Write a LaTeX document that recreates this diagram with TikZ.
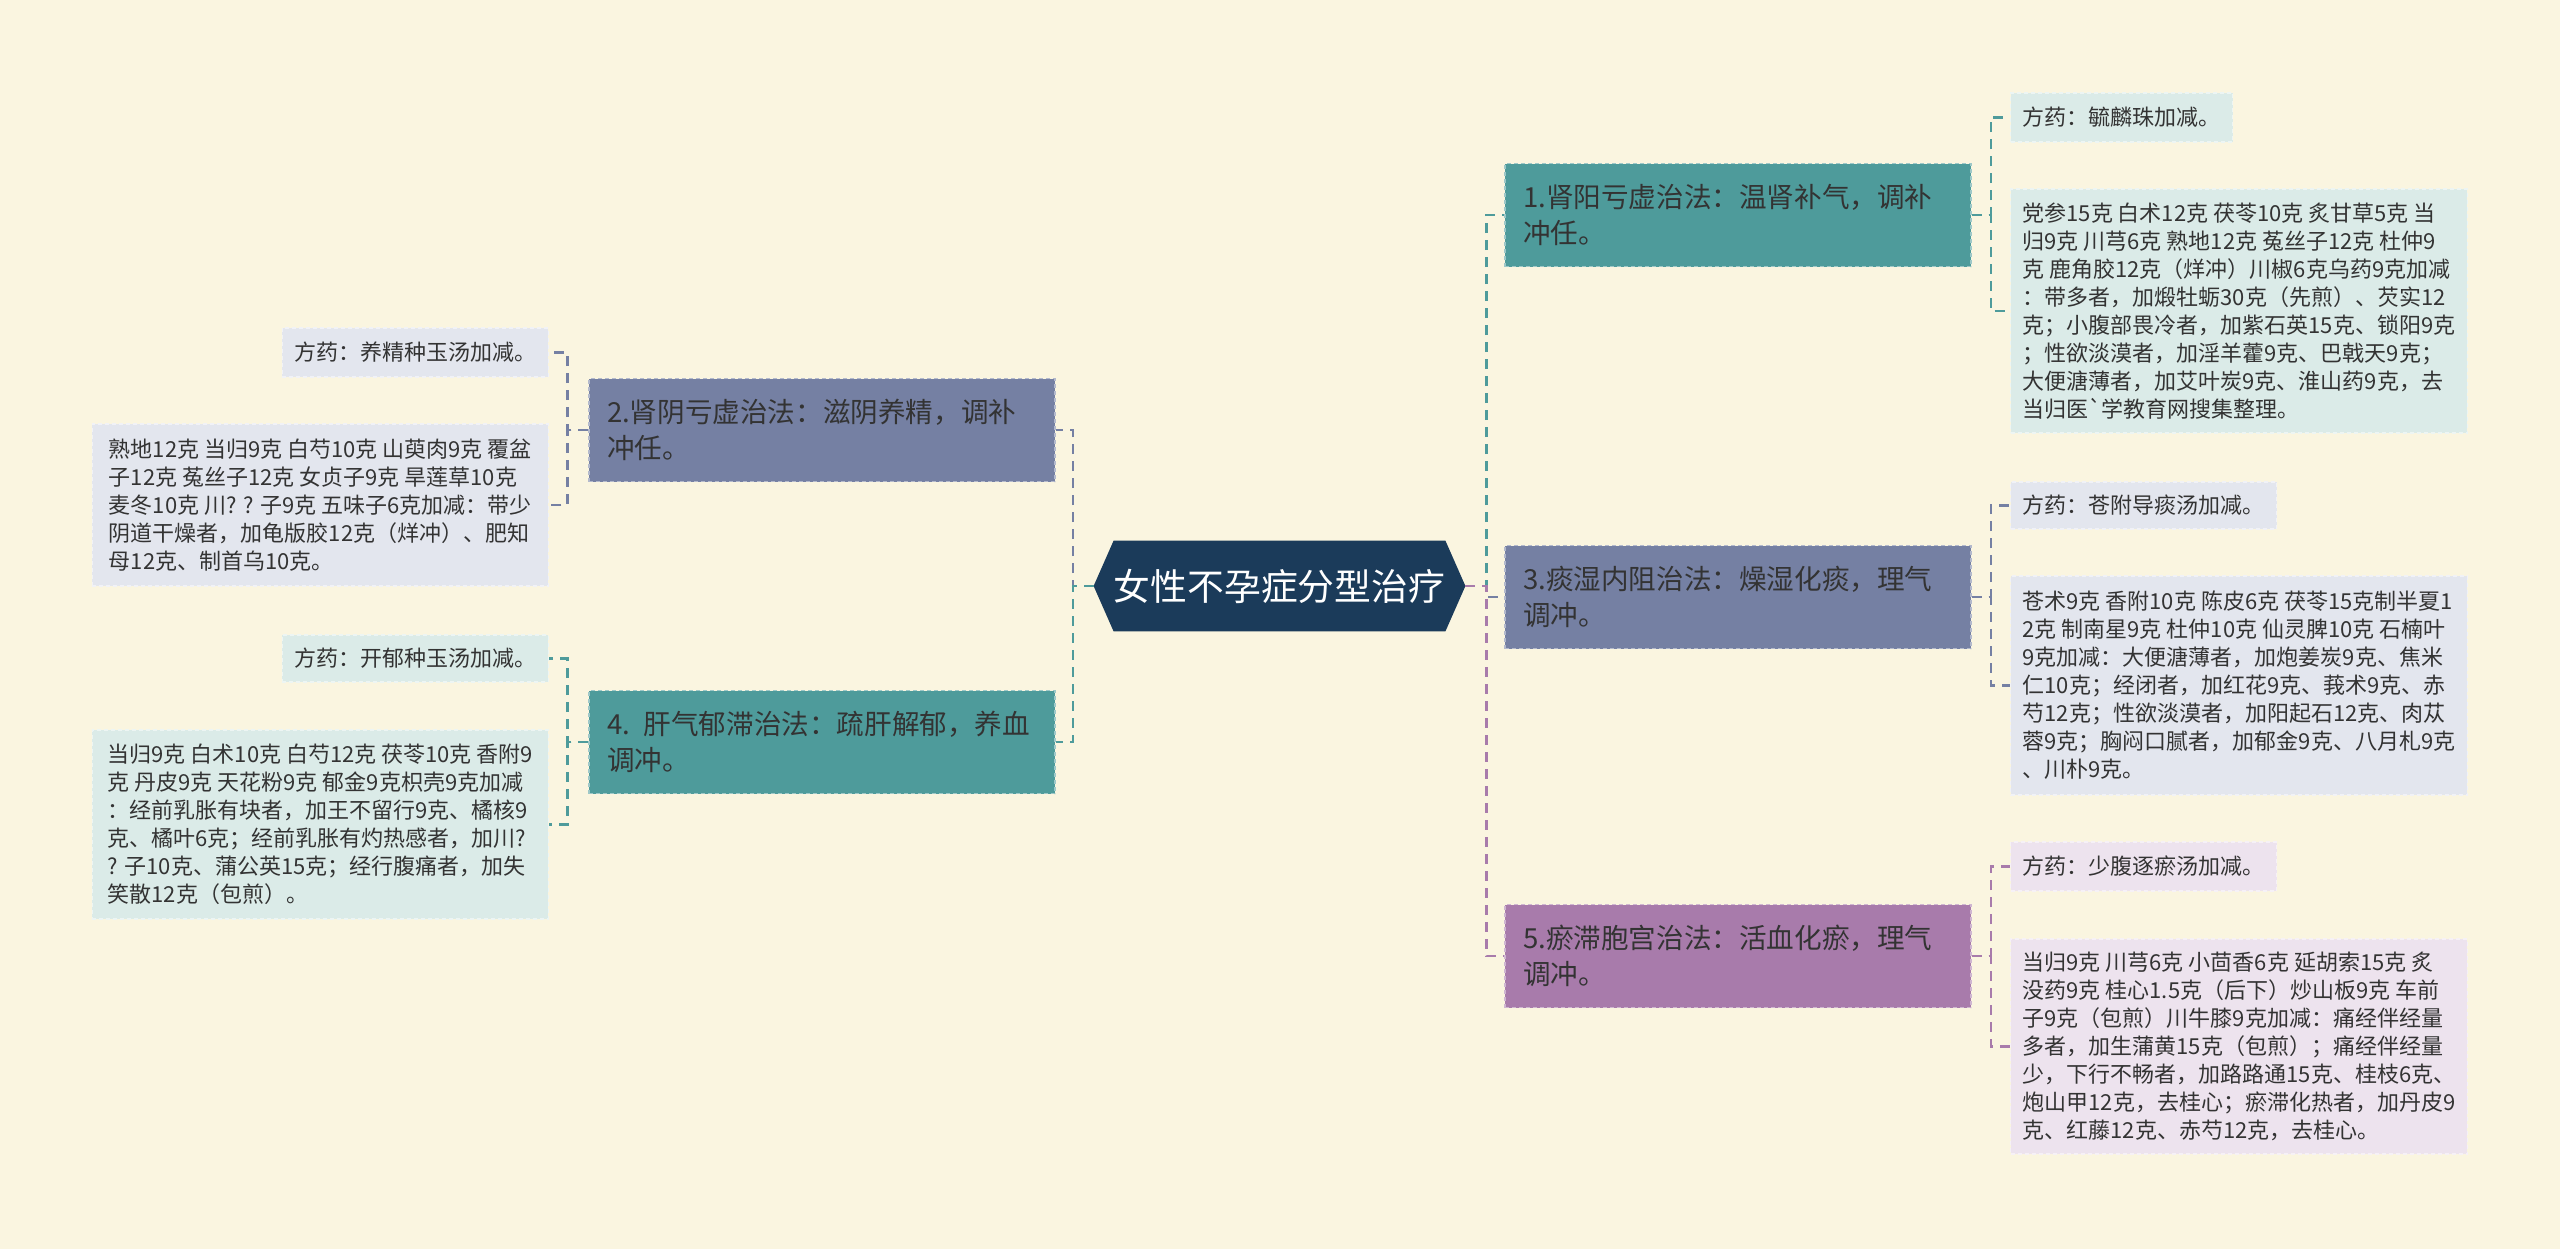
\documentclass[tikz,border=0pt]{standalone}
\usepackage{fontspec}
\setmainfont{Noto Sans CJK SC}
\usetikzlibrary{backgrounds}
\definecolor{bgcream}{HTML}{FAF5E0}
\definecolor{rootblue}{HTML}{1B3B5A}
\definecolor{tealc}{HTML}{4E9B9B}
\definecolor{slatec}{HTML}{7580A3}
\definecolor{plumc}{HTML}{A87BAB}
\definecolor{tealleaf}{HTML}{DBEBE8}
\definecolor{slateleaf}{HTML}{E3E6EE}
\definecolor{plumleaf}{HTML}{EDE3EE}
\definecolor{inkc}{HTML}{333333}

\begin{document}
\begin{tikzpicture}[x=0.5pt,y=-0.5pt,
  link/.style={draw=#1,line width=1.1pt,dash pattern=on 5pt off 3.5pt},
  branch/.style={fill=#1,draw=white!45!#1,line width=0.6pt,dash pattern=on 2pt off 1.5pt,text=inkc,minimum height=51.5pt,inner xsep=9pt,text width=215pt,align=left,font=\fontsize{13.8}{18}\selectfont},
  leaf/.style={fill=#1,draw=white!50!#1,line width=0.6pt,dash pattern=on 2pt off 1.5pt,text=inkc,inner xsep=6pt,align=left,font=\fontsize{11}{14}\selectfont}]
\useasboundingbox (0,0) rectangle (2560,1249);
\node[text=white,minimum width=185.5pt,minimum height=45pt,inner sep=0pt,font=\fontsize{18.4}{22}\selectfont] (root) at (1279.5,586) {女性不孕症分型治疗};
\begin{scope}[on background layer]
\fill[bgcream] (0,0) rectangle (2560,1249);
\fill[rootblue] (root.west) -- ([xshift=10pt]root.north west) -- ([xshift=-10pt]root.north east) -- (root.east) -- ([xshift=-10pt]root.south east) -- ([xshift=10pt]root.south west) -- cycle;
\end{scope}
\node[branch=tealc] (yang) at (1738,215) {1.肾阳亏虚治法：温肾补气，调补\\冲任。};
\node[branch=slatec] (tan) at (1738,597) {3.痰湿内阻治法：燥湿化痰，理气\\调冲。};
\node[branch=plumc] (yu) at (1738,956) {5.瘀滞胞宫治法：活血化瘀，理气\\调冲。};
\node[branch=slatec] (yin) at (822,430) {2.肾阴亏虚治法：滋阴养精，调补\\冲任。};
\node[branch=tealc] (gan) at (822,742) {4. 肝气郁滞治法：疏肝解郁，养血\\调冲。};
\node[leaf=tealleaf,anchor=west,minimum width=108.5pt,minimum height=24.5pt] (yang-fang) at (2010,117.5) {方药：毓麟珠加减。};
\node[leaf=tealleaf,anchor=west,minimum width=227.5pt,minimum height=122pt] (yang-yao) at (2010,311) {党参15克 白术12克 茯苓10克 炙甘草5克 当\\归9克 川芎6克 熟地12克 菟丝子12克 杜仲9\\克 鹿角胶12克（烊冲）川椒6克乌药9克加减\\：带多者，加煅牡蛎30克（先煎）、芡实12\\克；小腹部畏冷者，加紫石英15克、锁阳9克\\；性欲淡漠者，加淫羊藿9克、巴戟天9克；\\大便溏薄者，加艾叶炭9克、淮山药9克，去\\当归医\textasciigrave 学教育网搜集整理。};
\node[leaf=slateleaf,anchor=west,minimum width=129.5pt,minimum height=23.5pt] (tan-fang) at (2010,505.5) {方药：苍附导痰汤加减。};
\node[leaf=slateleaf,anchor=west,minimum width=227.5pt,minimum height=109.5pt] (tan-yao) at (2010,685.5) {苍术9克 香附10克 陈皮6克 茯苓15克制半夏1\\2克 制南星9克 杜仲10克 仙灵脾10克 石楠叶\\9克加减：大便溏薄者，加炮姜炭9克、焦米\\仁10克；经闭者，加红花9克、莪术9克、赤\\芍12克；性欲淡漠者，加阳起石12克、肉苁\\蓉9克；胸闷口腻者，加郁金9克、八月札9克\\、川朴9克。};
\node[leaf=plumleaf,anchor=west,minimum width=129.5pt,minimum height=24.5pt] (yu-fang) at (2010,866.5) {方药：少腹逐瘀汤加减。};
\node[leaf=plumleaf,anchor=west,minimum width=227.5pt,minimum height=107.5pt] (yu-yao) at (2010,1046.5) {当归9克 川芎6克 小茴香6克 延胡索15克 炙\\没药9克 桂心1.5克（后下）炒山板9克 车前\\子9克（包煎）川牛膝9克加减：痛经伴经量\\多者，加生蒲黄15克（包煎）；痛经伴经量\\少，下行不畅者，加路路通15克、桂枝6克、\\炮山甲12克，去桂心；瘀滞化热者，加丹皮9\\克、红藤12克、赤芍12克，去桂心。};
\node[leaf=slateleaf,anchor=east,minimum width=130pt,minimum height=24.5pt] (yin-fang) at (549,352.5) {方药：养精种玉汤加减。};
\node[leaf=slateleaf,anchor=east,minimum width=228pt,minimum height=81pt] (yin-yao) at (549,505) {熟地12克 当归9克 白芍10克 山萸肉9克 覆盆\\子12克 菟丝子12克 女贞子9克 旱莲草10克\\麦冬10克 川? ? 子9克 五味子6克加减：带少\\阴道干燥者，加龟版胶12克（烊冲）、肥知\\母12克、制首乌10克。};
\node[leaf=tealleaf,anchor=east,minimum width=130pt,minimum height=23.5pt] (gan-fang) at (549,658.5) {方药：开郁种玉汤加减。};
\node[leaf=tealleaf,anchor=east,minimum width=228pt,minimum height=94.5pt] (gan-yao) at (549,824.5) {当归9克 白术10克 白芍12克 茯苓10克 香附9\\克 丹皮9克 天花粉9克 郁金9克枳壳9克加减\\：经前乳胀有块者，加王不留行9克、橘核9\\克、橘叶6克；经前乳胀有灼热感者，加川?\\? 子10克、蒲公英15克；经行腹痛者，加失\\笑散12克（包煎）。};
\draw[link=tealc] (root.east) -- ++(21,0) |- (yang.west);
\draw[link=slatec] (root.east) -- ++(21,0) |- (tan.west);
\draw[link=plumc] (root.east) -- ++(21,0) |- (yu.west);
\draw[link=slatec] (root.west) -- ++(-21,0) |- (yin.east);
\draw[link=tealc] (root.west) -- ++(-21,0) |- (gan.east);
\foreach \b/\c in {yang/tealc,tan/slatec,yu/plumc}{
  \draw[link=\c] (\b.east) -- ++(19,0) |- (\b-fang.west);
  \draw[link=\c] (\b.east) -- ++(19,0) |- (\b-yao.west);
}
\foreach \b/\c in {yin/slatec,gan/tealc}{
  \draw[link=\c] (\b.west) -- ++(-21,0) |- (\b-fang.east);
  \draw[link=\c] (\b.west) -- ++(-21,0) |- (\b-yao.east);
}
\end{tikzpicture}
\end{document}
